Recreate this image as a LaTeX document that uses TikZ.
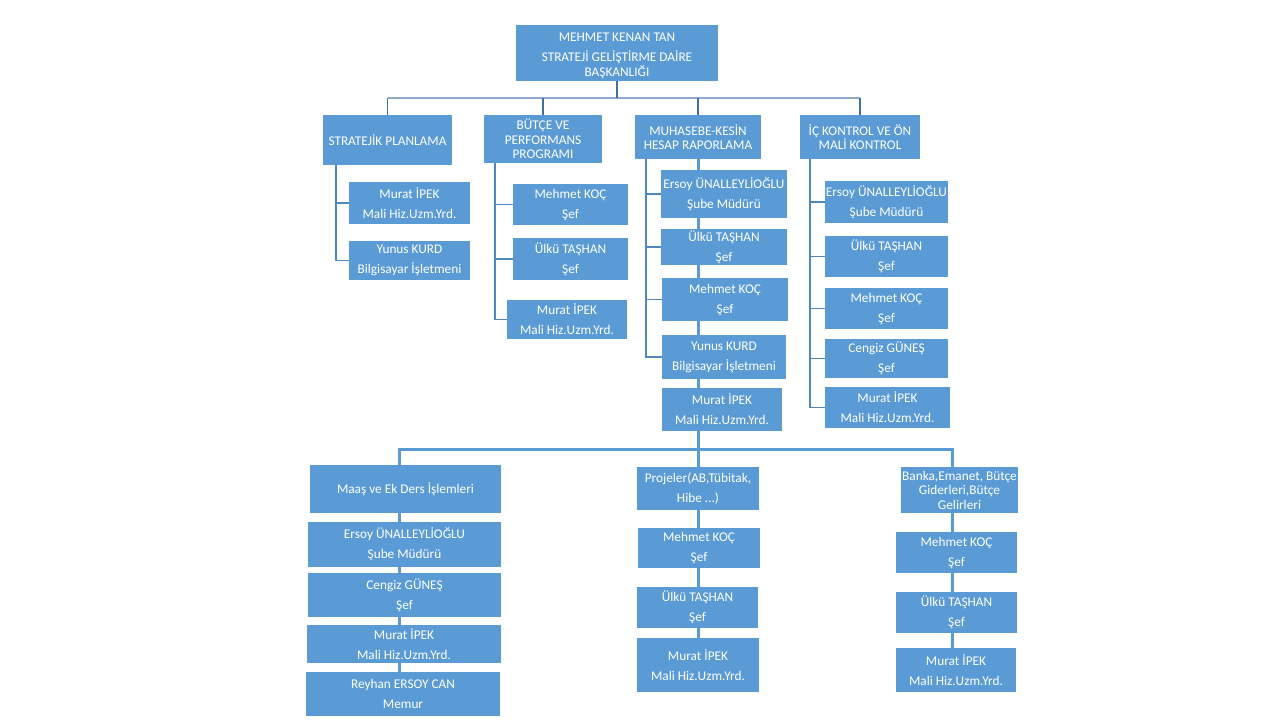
\documentclass[tikz,border=0pt]{standalone}
\usepackage{fontspec}
\setmainfont{Carlito}
\definecolor{boxblue}{HTML}{5B9BD5}
\definecolor{lineblue}{HTML}{41719C}
\definecolor{barblue}{HTML}{8FAACB}
\definecolor{subblue}{HTML}{4F87C2}
\newcommand{\pers}[2]{#1\\[5.5pt]#2}
\tikzset{
  unit/.style={fill=boxblue, text=white, inner xsep=1pt, inner ysep=0pt,
    align=center, font=\fontsize{13.3}{14.5}\selectfont},
  sz/.style 2 args={minimum width=#1pt, minimum height=#2pt},
  topln/.style={draw=lineblue, line width=1.3pt},
  barln/.style={draw=barblue, line width=2pt},
  subln/.style={draw=subblue, line width=1.2pt},
  stackln/.style={draw=boxblue, line width=3pt},
}
\begin{document}
\begin{tikzpicture}[x=1pt,y=-1pt]
      \fill[white] (0,0) rectangle (1280,720);
      \useasboundingbox (0,0) rectangle (1280,720);
      % head
      \node[unit, sz={202}{56}] (top) at (617,53)
        {\rule{0pt}{14pt}MEHMET KENAN TAN\\[5.5pt]STRATEJİ GELİŞTİRME DAİRE\\BAŞKANLIĞI};
      % departments
      \node[unit, sz={129}{50}] (sp) at (387.5,140) {STRATEJİK PLANLAMA};
      \node[unit, sz={118}{48}] (bp) at (543,139) {BÜTÇE VE\\PERFORMANS\\PROGRAMI};
      \node[unit, sz={126}{44}] (mk) at (698,137) {MUHASEBE-KESİN\\HESAP RAPORLAMA};
      \node[unit, sz={120}{44}] (ic) at (860,137) {İÇ KONTROL VE ÖN\\MALİ KONTROL};
      % stratejik planlama
      \node[unit, sz={121}{42}] (sp1) at (409.5,203) {\pers{Murat İPEK}{Mali Hiz.Uzm.Yrd.}};
      \node[unit, sz={121}{39}] (sp2) at (409.5,260.5) {\pers{Yunus KURD}{Bilgisayar İşletmeni}};
      % butce
      \node[unit, sz={115}{41}] (bp1) at (570.5,204.5) {\pers{Mehmet KOÇ}{Şef}};
      \node[unit, sz={115}{42}] (bp2) at (570.5,259) {\pers{Ülkü TAŞHAN}{Şef}};
      \node[unit, sz={120}{39}] (bp3) at (567,319.5) {\pers{Murat İPEK}{Mali Hiz.Uzm.Yrd.}};
      % muhasebe
      \node[unit, sz={126}{48}] (mk1) at (724,194) {\pers{Ersoy ÜNALLEYLİOĞLU}{Şube Müdürü}};
      \node[unit, sz={126}{36}] (mk2) at (724,247) {\pers{Ülkü TAŞHAN}{Şef}};
      \node[unit, sz={126}{43}] (mk3) at (725,299.5) {\pers{Mehmet KOÇ}{Şef}};
      \node[unit, sz={124}{44}] (mk4) at (724,357) {\pers{Yunus KURD}{Bilgisayar İşletmeni}};
      \node[unit, sz={120}{43}] (mk5) at (722,409.5) {\pers{Murat İPEK}{Mali Hiz.Uzm.Yrd.}};
      % ic kontrol
      \node[unit, sz={123}{42}] (ic1) at (886.5,202) {\pers{Ersoy ÜNALLEYLİOĞLU}{Şube Müdürü}};
      \node[unit, sz={123}{41}] (ic2) at (886.5,256.5) {\pers{Ülkü TAŞHAN}{Şef}};
      \node[unit, sz={123}{41}] (ic3) at (886.5,308.5) {\pers{Mehmet KOÇ}{Şef}};
      \node[unit, sz={123}{39}] (ic4) at (886.5,358.5) {\pers{Cengiz GÜNEŞ}{Şef}};
      \node[unit, sz={125}{41}] (ic5) at (887.5,407.5) {\pers{Murat İPEK}{Mali Hiz.Uzm.Yrd.}};
      % maas
      \node[unit, sz={191}{48}] (mq) at (405.5,489) {Maaş ve Ek Ders İşlemleri};
      \node[unit, sz={193}{45}] (mq1) at (404.5,544.5) {\pers{Ersoy ÜNALLEYLİOĞLU}{Şube Müdürü}};
      \node[unit, sz={193}{44}] (mq2) at (404.5,595) {\pers{Cengiz GÜNEŞ}{Şef}};
      \node[unit, sz={194}{38}] (mq3) at (404,644) {\pers{Murat İPEK}{Mali Hiz.Uzm.Yrd.}};
      \node[unit, sz={194}{44}] (mq4) at (403,694) {\pers{Reyhan ERSOY CAN}{Memur}};
      % projeler
      \node[unit, sz={122}{43}] (pj) at (698,488.5) {\pers{Projeler(AB,Tübitak,}{Hibe ...)}};
      \node[unit, sz={122}{40}] (pj1) at (699,548) {\pers{Mehmet KOÇ}{Şef}};
      \node[unit, sz={121}{41}] (pj2) at (697.5,607.5) {\pers{Ülkü TAŞHAN}{Şef}};
      \node[unit, sz={122}{54}] (pj3) at (698,665) {\pers{Murat İPEK}{Mali Hiz.Uzm.Yrd.}};
      % banka
      \node[unit, sz={115}{46}] (bk) at (959.5,490) {Banka,Emanet, Bütçe\\Giderleri,Bütçe\\Gelirleri};
      \node[unit, sz={121}{41}] (bk1) at (956.5,552.5) {\pers{Mehmet KOÇ}{Şef}};
      \node[unit, sz={121}{41}] (bk2) at (956.5,612.5) {\pers{Ülkü TAŞHAN}{Şef}};
      \node[unit, sz={120}{44}] (bk3) at (956,670) {\pers{Murat İPEK}{Mali Hiz.Uzm.Yrd.}};
      % connectors
      \coordinate (hub) at (617,98);
      \coordinate (spl) at (336,165);
      \coordinate (bpl) at (495,163);
      \coordinate (mkl) at (646,159);
      \coordinate (icl) at (810,159);
      \coordinate (hub2) at (698,449);
      \coordinate (bl) at (399,449);
      \coordinate (br) at (952,449);
      \begin{scope}[-]
        \draw[barln] (hub -| sp.north) -- (hub -| ic.north);
        \draw[topln] (top.south) -- (hub);
        \draw[topln] (hub -| sp.north) -- (sp.north);
        \draw[topln] (hub -| bp.north) -- (bp.north);
        \draw[topln] (hub -| mk.north) -- (mk.north);
        \draw[topln] (hub -| ic.north) -- (ic.north);
        \draw[subln] (spl) |- (sp1.west);
        \draw[subln] (spl) |- (sp2.west);
        \draw[subln] (bpl) |- (bp1.west);
        \draw[subln] (bpl) |- (bp2.west);
        \draw[subln] (bpl) |- (bp3.west);
        \draw[subln] (mkl) |- (mk1.west);
        \draw[subln] (mkl) |- (mk2.west);
        \draw[subln] (mkl) |- (mk3.west);
        \draw[subln] (mkl) |- (mk4.west);
        \draw[subln] (icl) |- (ic1.west);
        \draw[subln] (icl) |- (ic2.west);
        \draw[subln] (icl) |- (ic3.west);
        \draw[subln] (icl) |- (ic4.west);
        \draw[subln] (icl) |- (ic5.west);
        \draw[stackln] (mk.south) -- (mk1.north -| mk.south);
        \draw[stackln] (mk1.south -| mk.south) -- (mk2.north -| mk.south);
        \draw[stackln] (mk2.south -| mk.south) -- (mk3.north -| mk.south);
        \draw[stackln] (mk3.south -| mk.south) -- (mk4.north -| mk.south);
        \draw[stackln] (mk4.south -| mk.south) -- (mk5.north -| mk.south);
        \draw[stackln] (mk5.south -| mk.south) -- (hub2);
        \draw[stackln] (bl |- mq.north) -- (bl) -- (br) -- (br |- bk.north);
        \draw[stackln] (hub2) -- (hub2 |- pj.north);
        \draw[stackln] (mq.south -| bl) -- (mq1.north -| bl);
        \draw[stackln] (mq1.south -| bl) -- (mq2.north -| bl);
        \draw[stackln] (mq2.south -| bl) -- (mq3.north -| bl);
        \draw[stackln] (mq3.south -| bl) -- (mq4.north -| bl);
        \draw[stackln] (pj.south -| hub2) -- (pj1.north -| hub2);
        \draw[stackln] (pj1.south -| hub2) -- (pj2.north -| hub2);
        \draw[stackln] (pj2.south -| hub2) -- (pj3.north -| hub2);
        \draw[stackln] (bk.south -| br) -- (bk1.north -| br);
        \draw[stackln] (bk1.south -| br) -- (bk2.north -| br);
        \draw[stackln] (bk2.south -| br) -- (bk3.north -| br);
      \end{scope}
    \end{tikzpicture}
\end{document}
